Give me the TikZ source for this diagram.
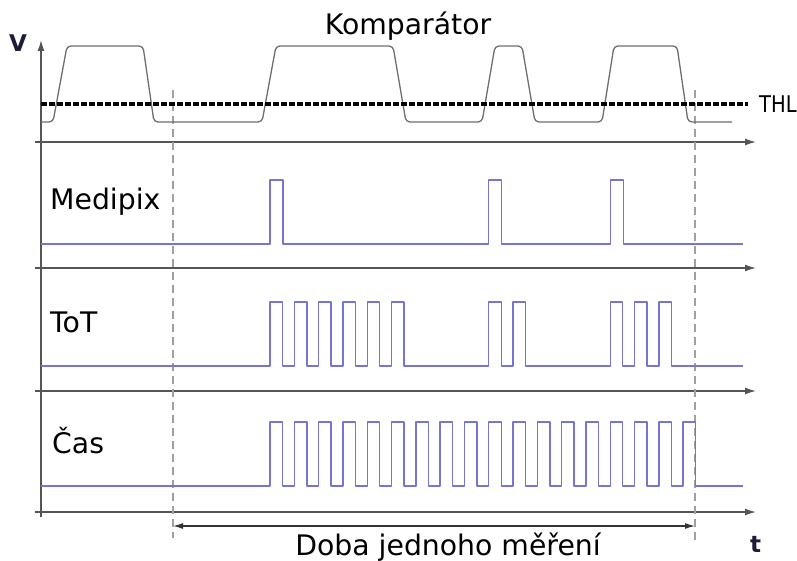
\documentclass[tikz,border=0pt]{standalone}
\usepackage{fontspec}
\usetikzlibrary{arrows.meta}
\newfontfamily\lblfont{DejaVu Sans}
\newfontfamily\thlfont[FakeStretch=0.85]{DejaVu Sans}
\definecolor{sigblue}{RGB}{118,118,208}
\definecolor{axisgray}{RGB}{85,85,85}
\definecolor{combgray}{RGB}{110,110,110}
\definecolor{guidegray}{RGB}{160,160,160}
\definecolor{darknavy}{RGB}{28,28,55}
\tikzset{
  lbl/.style={font=\lblfont\fontsize{28.3}{30}\selectfont, inner sep=0pt, text=black},
  axislbl/.style={font=\lblfont\bfseries\fontsize{23}{26}\selectfont, inner sep=0pt, text=darknavy},
  axisline/.style={draw=axisgray, line width=1.4pt},
  taxis/.style={axisline, -{Latex[length=11pt,width=7pt]}},
  signal/.style={draw=sigblue, line width=1.4pt, line join=round},
  comparator/.style={draw=combgray, line width=1.3pt, rounded corners=4pt},
  threshold/.style={draw=black, line width=3.2pt, dash pattern=on 6pt off 2pt},
  guide/.style={draw=guidegray, line width=1.1pt, dash pattern=on 8pt off 5pt},
  span/.style={draw=black!80, line width=1.2pt, {Latex[length=10pt,width=6pt]}-{Latex[length=10pt,width=6pt]}}
}
\begin{document}
\begin{tikzpicture}[x=1pt, y=-1pt]
\useasboundingbox (0,0) rectangle (797,561);

% axes
\coordinate (vbot) at (41,517);
\coordinate (vtop) at (41,40);
\draw[taxis] (vbot) -- (vtop);
\foreach \name/\yy in {kom/142, med/268, tot/391, cas/512} {
  \coordinate (\name-a) at (35,\yy);
  \coordinate (\name-b) at (756,\yy);
  \draw[taxis] (\name-a) -- (\name-b);
}

% measurement window guides
\coordinate (g1t) at (173,90);  \coordinate (g1b) at (173,538);
\coordinate (g2t) at (695,90);  \coordinate (g2b) at (695,540);
\draw[guide] (g1t) -- (g1b);
\draw[guide] (g2t) -- (g2b);

% comparator output
\draw[comparator] (41,122) -- (53,122) -- (67,46) -- (143,46) -- (154,122)
  -- (262,122) -- (276,46) -- (393,46) -- (406,122)
  -- (482,122) -- (495,46) -- (522,46) -- (535,122)
  -- (602,122) -- (614,46) -- (677,46) -- (688,122) -- (732,122);
% threshold level
\coordinate (thl-a) at (41,104);
\coordinate (thl-b) at (748,104);
\draw[threshold] (thl-a) -- (thl-b);

% Medipix counter pulses
\draw[signal] (41,244)
  \foreach \k in {0,9,14} { -- ({270+24.3*\k},244) -- ++(0,-64) -- ++(13,0) -- ++(0,64) }
  -- (743,244);

% ToT clock pulses
\draw[signal] (41,366)
  \foreach \k in {0,1,2,3,4,5,9,10,14,15,16} { -- ({270+24.3*\k},366) -- ++(0,-64) -- ++(12.5,0) -- ++(0,64) }
  -- (743,366);

% time clock pulses
\draw[signal] (41,486)
  \foreach \k in {0,...,17} { -- ({270+24.3*\k},486) -- ++(0,-64) -- ++(12.5,0) -- ++(0,64) }
  -- (743,486);

% measurement duration
\coordinate (d-a) at (173,526);
\coordinate (d-b) at (695,526);
\draw[span] (d-a) -- (d-b);

% labels
\node[axislbl, anchor=base west] (vlabel) at (9,52) {V};
\node[axislbl, anchor=base west] (tlabel) at (750,552) {t};
\node[lbl, anchor=base] (komp) at (408,35) {Komparátor};
\node[anchor=base west, inner sep=0pt, font=\thlfont\fontsize{23}{25}\selectfont] (thl) at (759,113) {THL};
\node[lbl, anchor=base west] (medipix) at (50,210) {Medipix};
\node[lbl, anchor=base west] (tot) at (50,332) {ToT};
\node[lbl, anchor=base west] (cas) at (52,453) {Čas};
\node[lbl, anchor=base] (doba) at (448,555) {Doba jednoho měření};
\end{tikzpicture}
\end{document}
